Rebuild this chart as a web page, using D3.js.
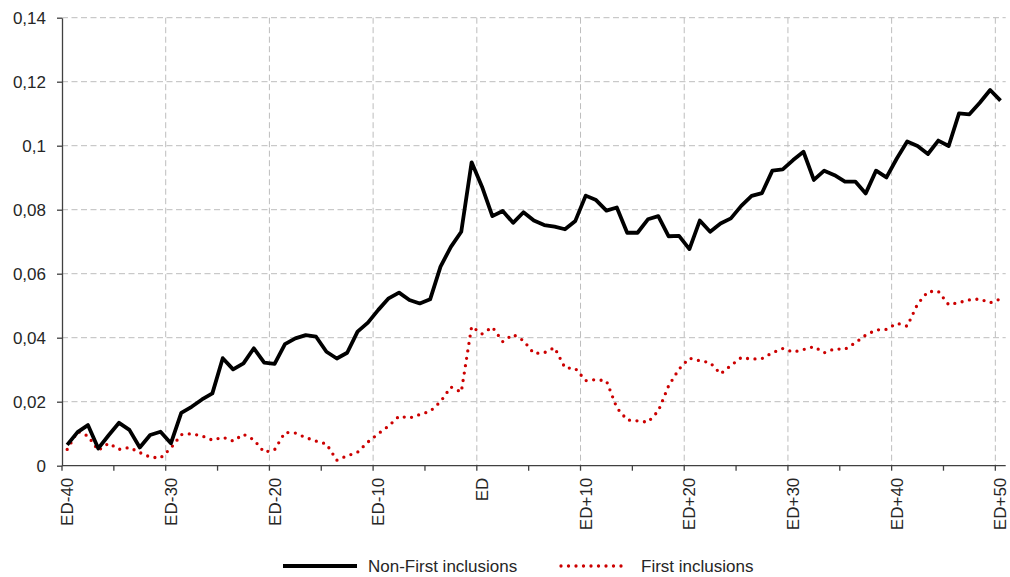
<!DOCTYPE html>
<html>
<head>
<meta charset="utf-8">
<script src="https://cdn.jsdelivr.net/npm/d3@7"></script>
<style>
  html, body { margin: 0; padding: 0; background: #fff; }
  svg { display: block; font-family: "Liberation Sans", Arial, sans-serif; }
</style>
</head>
<body>
<svg id="chart" width="1010" height="577"></svg>
<script>
// Event-day window: ED-40 … ED … ED+50
const categories = d3.range(-40, 51).map(d => d < 0 ? `ED${d}` : d === 0 ? "ED" : `ED+${d}`);
const xTickLabels = ["ED-40", "ED-30", "ED-20", "ED-10", "ED", "ED+10", "ED+20", "ED+30", "ED+40", "ED+50"];
const xMinorTicks = ["ED-40", "ED-35", "ED-30", "ED-25", "ED-20", "ED-15", "ED-10", "ED-5", "ED", "ED+5",
                     "ED+10", "ED+15", "ED+20", "ED+25", "ED+30", "ED+35", "ED+40", "ED+45", "ED+50"];
const yTicks = [0, 0.02, 0.04, 0.06, 0.08, 0.1, 0.12, 0.14];

const nonFirst = [
  0.0065, 0.0105, 0.0127, 0.0054, 0.0095, 0.0134, 0.0112, 0.0057, 0.0096, 0.0106,
  0.0070, 0.0165, 0.0184, 0.0207, 0.0226, 0.0336, 0.0301, 0.0320, 0.0367, 0.0322,
  0.0318, 0.0380, 0.0398, 0.0408, 0.0403, 0.0356, 0.0335, 0.0353, 0.0419, 0.0447,
  0.0487, 0.0523, 0.0541, 0.0518, 0.0507, 0.0520, 0.0622, 0.0684, 0.0731, 0.0948,
  0.0872, 0.0780, 0.0796, 0.0759, 0.0792, 0.0766, 0.0752, 0.0747, 0.0739, 0.0765,
  0.0844, 0.0830, 0.0797, 0.0807, 0.0728, 0.0728, 0.0770, 0.0780, 0.0717, 0.0718,
  0.0677, 0.0766, 0.0731, 0.0757, 0.0773, 0.0812, 0.0843, 0.0852, 0.0922, 0.0926,
  0.0955, 0.0981, 0.0893, 0.0922, 0.0908, 0.0888, 0.0888, 0.0851, 0.0922, 0.0901,
  0.0960, 0.1013, 0.0999, 0.0974, 0.1016, 0.0999, 0.1101, 0.1098, 0.1134, 0.1174,
  0.1141
];

const firstIncl = [
  0.0051, 0.0107, 0.0093, 0.0048, 0.0070, 0.0051, 0.0057, 0.0041, 0.0027, 0.0024,
  0.0055, 0.0097, 0.0100, 0.0093, 0.0080, 0.0089, 0.0077, 0.0098, 0.0081, 0.0042,
  0.0050, 0.0104, 0.0102, 0.0088, 0.0077, 0.0068, 0.0017, 0.0031, 0.0042, 0.0074,
  0.0100, 0.0124, 0.0155, 0.0149, 0.0160, 0.0170, 0.0200, 0.0246, 0.0230, 0.0435,
  0.0412, 0.0433, 0.0388, 0.0410, 0.0391, 0.0351, 0.0353, 0.0369, 0.0306, 0.0304,
  0.0266, 0.0269, 0.0265, 0.0181, 0.0143, 0.0140, 0.0136, 0.0171, 0.0250, 0.0302,
  0.0336, 0.0328, 0.0322, 0.0287, 0.0313, 0.0338, 0.0333, 0.0335, 0.0353, 0.0366,
  0.0355, 0.0363, 0.0372, 0.0353, 0.0365, 0.0364, 0.0384, 0.0408, 0.0424, 0.0426,
  0.0445, 0.0436, 0.0505, 0.0544, 0.0545, 0.0503, 0.0510, 0.0518, 0.0521, 0.0509,
  0.0521
];

const seriesNames = ["Non-First inclusions", "First inclusions"];

const svg = d3.select("#chart");
const plot = { left: 62, right: 1005.7, top: 17.7, bottom: 465.7 };

const x = d3.scaleBand().domain(categories).range([plot.left, plot.right]).padding(0);
const bw = x.bandwidth();
const y = d3.scaleLinear().domain([0, 0.14]).range([plot.bottom, plot.top]);

const locale = d3.formatLocale({ decimal: ",", thousands: ".", grouping: [3], currency: ["", "€"] });
const fmt = locale.format(".2~f");

const gridColor = "#bdbdbd";
const axisColor = "#404040";
const textColor = "#262626";

// horizontal gridlines
svg.append("g").selectAll("line")
  .data(yTicks.filter(d => d > 0))
  .join("line")
  .attr("x1", plot.left).attr("x2", plot.right)
  .attr("y1", d => y(d)).attr("y2", d => y(d))
  .attr("stroke", gridColor).attr("stroke-width", 1)
  .attr("stroke-dasharray", "6,3.5");

// vertical gridlines at labelled category boundaries
svg.append("g").selectAll("line")
  .data(xTickLabels.slice(1))
  .join("line")
  .attr("x1", d => x(d)).attr("x2", d => x(d))
  .attr("y1", plot.top).attr("y2", plot.bottom)
  .attr("stroke", gridColor).attr("stroke-width", 1)
  .attr("stroke-dasharray", "6,3.5");

// y axis
const yAxis = svg.append("g")
  .attr("transform", `translate(${plot.left},0)`)
  .call(d3.axisLeft(y).tickValues(yTicks).tickFormat(fmt).tickSize(5).tickSizeOuter(0).tickPadding(11));
yAxis.select(".domain").attr("stroke", axisColor).attr("stroke-width", 1.3);
yAxis.selectAll(".tick line").attr("stroke", axisColor).attr("stroke-width", 1.3);
yAxis.selectAll(".tick text").attr("fill", textColor).style("font-size", "17px")
  .style("font-family", "'Liberation Sans', Arial, sans-serif");

// x axis line and tick marks
const xAxis = svg.append("g");
xAxis.append("line")
  .attr("x1", plot.left).attr("x2", plot.right)
  .attr("y1", plot.bottom).attr("y2", plot.bottom)
  .attr("stroke", axisColor).attr("stroke-width", 1.3);
xAxis.selectAll("line.tick")
  .data(xMinorTicks)
  .join("line")
  .attr("class", "tick")
  .attr("x1", d => x(d)).attr("x2", d => x(d))
  .attr("y1", plot.bottom).attr("y2", plot.bottom + 5)
  .attr("stroke", axisColor).attr("stroke-width", 1.3);
xAxis.selectAll("text")
  .data(xTickLabels)
  .join("text")
  .attr("transform", d => `translate(${x(d) + bw / 2},${plot.bottom + 12}) rotate(-90)`)
  .attr("text-anchor", "end")
  .attr("dy", "0.35em")
  .attr("fill", textColor)
  .style("font-size", "17px")
  .text(d => d);

// series lines
const line = d3.line()
  .x((d, i) => x(categories[i]) + bw / 2)
  .y(d => y(d));

svg.append("path")
  .datum(firstIncl)
  .attr("d", line)
  .attr("fill", "none")
  .attr("stroke", "#cc0000")
  .attr("stroke-width", 3.3)
  .attr("stroke-linecap", "round")
  .attr("stroke-linejoin", "round")
  .attr("stroke-dasharray", "0,7.5");

svg.append("path")
  .datum(nonFirst)
  .attr("d", line)
  .attr("fill", "none")
  .attr("stroke", "#000")
  .attr("stroke-width", 3.8)
  .attr("stroke-linejoin", "round");

// legend
const legend = svg.append("g");
const legendItems = [
  { name: seriesNames[0], x1: 283, x2: 357, tx: 368, stroke: "#000", width: 3.8, dash: null, cap: "butt" },
  { name: seriesNames[1], x1: 561, x2: 628, tx: 641, stroke: "#cc0000", width: 3.3, dash: "0,7.5", cap: "round" }
];
legendItems.forEach(it => {
  legend.append("line")
    .attr("x1", it.x1).attr("x2", it.x2)
    .attr("y1", 566).attr("y2", 566)
    .attr("stroke", it.stroke).attr("stroke-width", it.width)
    .attr("stroke-linecap", it.cap)
    .attr("stroke-dasharray", it.dash);
  legend.append("text")
    .attr("x", it.tx).attr("y", 566).attr("dy", "0.35em")
    .attr("fill", textColor)
    .style("font-size", "17px")
    .text(it.name);
});
</script>
</body>
</html>
